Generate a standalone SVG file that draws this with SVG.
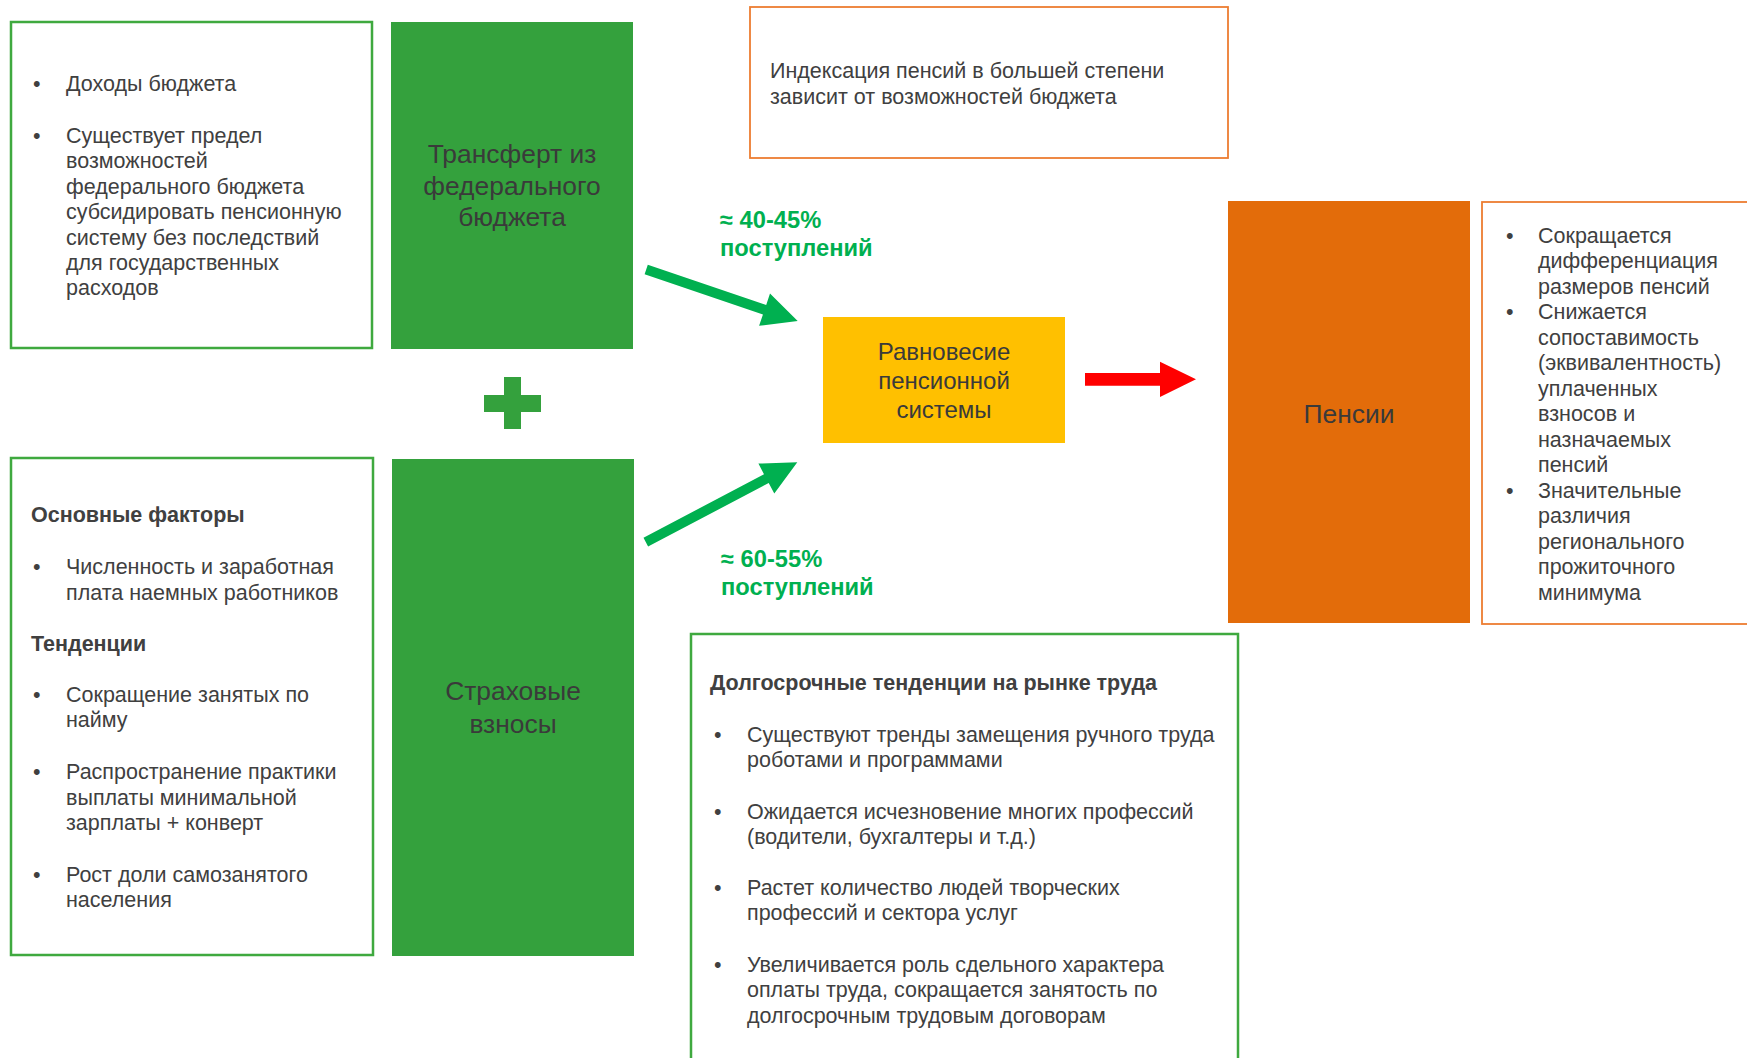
<svg xmlns="http://www.w3.org/2000/svg" width="1747" height="1058" viewBox="0 0 1747 1058">
<style>
text{font-family:"Liberation Sans",Arial,sans-serif;fill:#404040;}
.b{font-size:21.5px;}
.bold{font-size:21.5px;font-weight:bold;}
.big{font-size:26.4px;text-anchor:middle;fill:#3a3a3a;}
.mid{font-size:24px;text-anchor:middle;fill:#3a3a3a;}
.lbl{font-size:23.7px;font-weight:bold;fill:#00b050;}
.gbox{fill:#fff;stroke:#3fa93f;stroke-width:2.5;}
.obox{fill:#fff;stroke:#ed7d31;stroke-width:1.8;}
.gfill{fill:#34a13d;}
</style>
<rect width="1747" height="1058" fill="#fff"/>

<g id="budget-notes">
<rect class="gbox" x="11" y="22" width="361" height="326"/>
<text class="b" x="33" y="91">•</text><text class="b" x="66" y="91">Доходы бюджета</text>
<text class="b" x="33" y="143">•</text>
<text class="b" x="66" y="143">Существует предел</text>
<text class="b" x="66" y="168.4">возможностей</text>
<text class="b" x="66" y="193.8">федерального бюджета</text>
<text class="b" x="66" y="219.2">субсидировать пенсионную</text>
<text class="b" x="66" y="244.6">систему без последствий</text>
<text class="b" x="66" y="270">для государственных</text>
<text class="b" x="66" y="295.4">расходов</text>
</g>

<g id="transfer">
<rect class="gfill" x="391" y="22" width="242" height="327"/>
<text class="big" x="512" y="163">Трансферт из</text>
<text class="big" x="512" y="194.5">федерального</text>
<text class="big" x="512" y="226">бюджета</text>
</g>

<g id="plus">
<rect class="gfill" x="504" y="377" width="17" height="52"/>
<rect class="gfill" x="484" y="395" width="57" height="17"/>
</g>

<g id="factors">
<rect class="gbox" x="11" y="458" width="362" height="497"/>
<text class="bold" x="31" y="522">Основные факторы</text>
<text class="b" x="33" y="574">•</text>
<text class="b" x="66" y="574">Численность и заработная</text>
<text class="b" x="66" y="600">плата наемных работников</text>
<text class="bold" x="31" y="651">Тенденции</text>
<text class="b" x="33" y="702">•</text>
<text class="b" x="66" y="702">Сокращение занятых по</text>
<text class="b" x="66" y="727.4">найму</text>
<text class="b" x="33" y="779">•</text>
<text class="b" x="66" y="779">Распространение практики</text>
<text class="b" x="66" y="804.6">выплаты минимальной</text>
<text class="b" x="66" y="830.2">зарплаты + конверт</text>
<text class="b" x="33" y="882">•</text>
<text class="b" x="66" y="882">Рост доли самозанятого</text>
<text class="b" x="66" y="907.4">населения</text>
</g>

<g id="contributions">
<rect class="gfill" x="392" y="459" width="242" height="497"/>
<text class="big" x="513" y="700">Страховые</text>
<text class="big" x="513" y="732.5">взносы</text>
</g>

<g id="indexation-note">
<rect class="obox" x="750" y="7" width="478" height="151"/>
<text class="b" x="770" y="78">Индексация пенсий в большей степени</text>
<text class="b" x="770" y="103.5">зависит от возможностей бюджета</text>
</g>

<g id="balance">
<rect x="823" y="317" width="242" height="126" fill="#ffc000"/>
<text class="mid" x="944" y="360">Равновесие</text>
<text class="mid" x="944" y="389">пенсионной</text>
<text class="mid" x="944" y="418">системы</text>
</g>

<g id="pensions">
<rect x="1228" y="201" width="242" height="422" fill="#e36c0a"/>
<text class="big" x="1349" y="423">Пенсии</text>
</g>

<g id="pension-notes">
<rect class="obox" x="1482" y="202" width="300" height="422"/>
<text class="b" x="1506" y="243">•</text>
<text class="b" x="1538" y="243">Сокращается</text>
<text class="b" x="1538" y="268.4">дифференциация</text>
<text class="b" x="1538" y="293.8">размеров пенсий</text>
<text class="b" x="1506" y="319">•</text>
<text class="b" x="1538" y="319">Снижается</text>
<text class="b" x="1538" y="344.5">сопоставимость</text>
<text class="b" x="1538" y="370">(эквивалентность)</text>
<text class="b" x="1538" y="395.5">уплаченных</text>
<text class="b" x="1538" y="421">взносов и</text>
<text class="b" x="1538" y="446.5">назначаемых</text>
<text class="b" x="1538" y="472">пенсий</text>
<text class="b" x="1506" y="498">•</text>
<text class="b" x="1538" y="498">Значительные</text>
<text class="b" x="1538" y="523.4">различия</text>
<text class="b" x="1538" y="548.8">регионального</text>
<text class="b" x="1538" y="574.2">прожиточного</text>
<text class="b" x="1538" y="599.6">минимума</text>
</g>

<g id="labour-trends">
<rect class="gbox" x="691" y="634" width="547" height="440"/>
<text class="bold" x="710" y="690">Долгосрочные тенденции на рынке труда</text>
<text class="b" x="714" y="742">•</text>
<text class="b" x="747" y="742">Существуют тренды замещения ручного труда</text>
<text class="b" x="747" y="767.4">роботами и программами</text>
<text class="b" x="714" y="818.5">•</text>
<text class="b" x="747" y="818.5">Ожидается исчезновение многих профессий</text>
<text class="b" x="747" y="844">(водители, бухгалтеры и т.д.)</text>
<text class="b" x="714" y="895">•</text>
<text class="b" x="747" y="895">Растет количество людей творческих</text>
<text class="b" x="747" y="920.4">профессий и сектора услуг</text>
<text class="b" x="714" y="972">•</text>
<text class="b" x="747" y="972">Увеличивается роль сдельного характера</text>
<text class="b" x="747" y="997.4">оплаты труда, сокращается занятость по</text>
<text class="b" x="747" y="1022.8">долгосрочным трудовым договорам</text>
</g>

<g id="connectors">
<polygon fill="#00b050" points="647.8,264.8 766.2,305.0 770.0,293.6 797.7,321 759.1,325.8 762.95,314.5 644.6,274.2"/>
<polygon fill="#00b050" points="643.5,537.8 764.0,474.2 758.4,463.6 797.3,462.3 774.3,493.6 768.7,483.0 648.1,546.6"/>
<polygon fill="#ff0000" points="1085,373 1160,373 1160,361.7 1196,379.3 1160,397 1160,385.7 1085,385.7"/>
<text class="lbl" x="720" y="228">≈ 40-45%</text>
<text class="lbl" x="720" y="256">поступлений</text>
<text class="lbl" x="721" y="567">≈ 60-55%</text>
<text class="lbl" x="721" y="595">поступлений</text>
</g>
</svg>
